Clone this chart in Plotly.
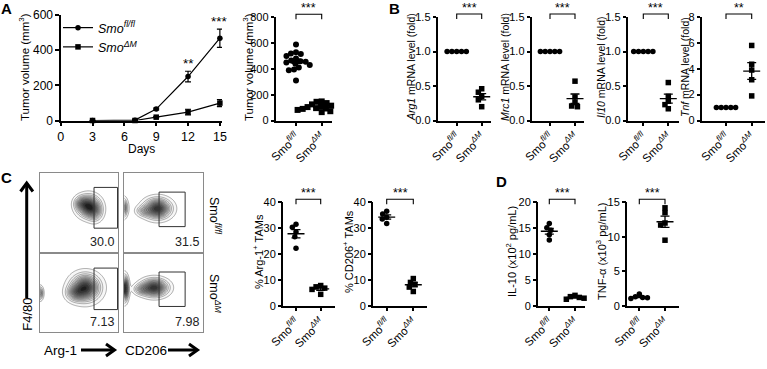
import numpy as np
import plotly.graph_objects as go

W, H = 767, 369
FONT = "Liberation Sans, Arial, sans-serif"
NARROW = "Liberation Sans Narrow, Arial Narrow, Liberation Sans, sans-serif"

# ---------------- data ----------------
days = [3, 7, 9, 12, 15]
vol_flfl = [0, 2, 65, 250, 468]
vol_flfl_sem = [0, 1, 5, 30, 52]
vol_dm = [0, 0, 19, 48, 99]
vol_dm_sem = [0, 0, 3, 16, 20]
line_sig = ["", "", "", "**", "***"]

group_labels = ["Smo<sup><i>fl/fl</i></sup>", "Smo<sup><i>ΔM</i></sup>"]
legend_names = ["<i>Smo</i><sup><i>fl/fl</i></sup>", "<i>Smo</i><sup><i>ΔM</i></sup>"]

tumor_flfl = [590, 530, 520, 515, 500, 480, 465, 460, 455, 450, 440, 430, 410, 395, 390, 310]
tumor_dm = [148, 145, 135, 125, 115, 108, 104, 100, 96, 93, 90, 86, 82, 78, 72, 65]

arg1_flfl = [1.0, 1.0, 1.0, 1.0, 1.0]
arg1_dm = [0.46, 0.41, 0.35, 0.30, 0.20]
mrc1_flfl = [1.0, 1.0, 1.0, 1.0, 1.0]
mrc1_dm = [0.57, 0.34, 0.26, 0.21, 0.20]
il10m_flfl = [1.0, 1.0, 1.0, 1.0, 1.0]
il10m_dm = [0.55, 0.35, 0.28, 0.23, 0.17]
tnfm_flfl = [1.0, 1.0, 1.0, 1.0, 1.0]
tnfm_dm = [5.8, 4.35, 3.9, 3.15, 1.9]

arg1tam_flfl = [31.5, 30.3, 28.5, 26.7, 22.2]
arg1tam_dm = [7.8, 7.3, 6.8, 6.3, 4.4]
cd206tam_flfl = [36.5, 35.5, 34.2, 33.5, 31.8]
cd206tam_dm = [10.5, 9.0, 8.3, 7.2, 5.5]

il10_flfl = [15.9, 15.1, 14.6, 13.7, 12.7]
il10_dm = [2.0, 1.75, 1.6, 1.45, 1.25]
tnf_flfl = [1.7, 1.3, 1.2, 1.15, 1.05]
tnf_dm = [14.2, 13.5, 12.0, 11.7, 9.5]

flow_gate_pct = ["30.0", "31.5", "7.13", "7.98"]
# flow density blobs (cx, cy, sx, sy, amplitude) in box fractions
flow_blobs = [
    [(0.62, 0.58, 0.085, 0.08, 1.0), (0.70, 0.50, 0.06, 0.07, 0.35), (0.52, 0.62, 0.05, 0.05, 0.3)],
    [(0.42, 0.55, 0.10, 0.075, 1.0), (0.25, 0.52, 0.06, 0.04, 0.3), (-0.02, 0.56, 0.035, 0.07, 0.7)],
    [(0.58, 0.57, 0.11, 0.10, 1.0), (0.45, 0.50, 0.07, 0.06, 0.4), (0.0, 0.50, 0.025, 0.05, 0.5)],
    [(0.38, 0.57, 0.10, 0.065, 1.0), (0.22, 0.55, 0.06, 0.04, 0.35), (0.0, 0.56, 0.03, 0.09, 1.2)],
]
flow_gates = [(0.69, 0.99, 0.30, 0.82), (0.44, 0.77, 0.32, 0.76),
              (0.69, 0.99, 0.29, 0.82), (0.44, 0.77, 0.33, 0.77)]

# ---------------- helpers ----------------
def PX(x):
    return x / W


def PY(y):
    return 1 - y / H


traces = []
shapes = []
annotations = []
layout = dict(width=W, height=H, margin=dict(l=0, r=0, t=0, b=0, pad=0, autoexpand=False),
              paper_bgcolor="white", plot_bgcolor="white",
              font=dict(family=FONT, color="black", size=11),
              showlegend=True,
              legend=dict(x=PX(58), y=PY(13), xanchor="left", yanchor="top",
                          font=dict(size=12.5, family=NARROW), bgcolor="rgba(0,0,0,0)",
                          itemwidth=30, tracegroupgap=0))


def axname(n):
    return ("", "") if n == 1 else (str(n), str(n))


def base_axis(**kw):
    d = dict(showline=True, linecolor="black", linewidth=1.5, ticks="outside",
             ticklen=3.5, tickwidth=1.5, tickcolor="black", showgrid=False,
             zeroline=False, tickfont=dict(size=11, family=NARROW), fixedrange=True,
             automargin=False)
    d.update(kw)
    return d


def ppath(pts, w=3):
    d = "M " + " L ".join(f"{PX(x)},{PY(y)}" for x, y in pts)
    shapes.append(dict(type="path", xref="paper", yref="paper", path=d,
                       line=dict(color="black", width=w)))


def ptext(x, y, text, size=11, angle=0, bold=False, family=FONT, **kw):
    if bold:
        text = "<b>" + text + "</b>"
    a = dict(x=PX(x), y=PY(y), xref="paper", yref="paper", text=text,
             showarrow=False, font=dict(size=size, family=family, color="black"),
             textangle=angle, xanchor="center", yanchor="middle")
    a.update(kw)
    annotations.append(a)


def beeswarm(vals, ypu, d):
    order = sorted(range(len(vals)), key=lambda i: -vals[i])
    placed = []
    offs = [0.0] * len(vals)
    for i in order:
        y = vals[i] * ypu
        cands = [0.0]
        for (xp, yp) in placed:
            dy = abs(yp - y)
            if dy < d:
                dx = (d * d - dy * dy) ** 0.5
                cands += [xp - dx, xp + dx]
        cands.sort(key=lambda c: (abs(c), c))
        for c in cands:
            if all((c - xp) ** 2 + (y - yp) ** 2 >= d * d - 1e-6 for xp, yp in placed):
                offs[i] = c
                break
        placed.append((offs[i], y))
    return offs


def dot_panel(n, geom, v0, v1, ymax, dtick, sig, tickfmt=None, dia=4.8, msize=5.5):
    axl, axr, c0, c1, yt, yb = geom
    ppu = c1 - c0
    xr = [-(c0 - axl) / ppu, 1 + (axr - c1) / ppu]
    sx, sy = axname(n)
    layout["xaxis" + sx] = base_axis(domain=[PX(axl), PX(axr)], range=xr, anchor="y" + sy,
                                     tickvals=[0, 1], ticktext=group_labels, tickangle=-45,
                                     tickfont=dict(size=11.5, family=FONT))
    ya = base_axis(domain=[PY(yb), PY(yt)], range=[0, ymax], anchor="x" + sx, dtick=dtick, tick0=0)
    if tickfmt:
        ya["tickformat"] = tickfmt
    layout["yaxis" + sy] = ya
    ypu = (yb - yt) / ymax
    for k, (vals, sym) in enumerate([(v0, "circle"), (v1, "square")]):
        offs = beeswarm(vals, ypu, dia)
        xs = [k + o / ppu for o in offs]
        traces.append(go.Scatter(x=xs, y=vals, mode="markers", xaxis="x" + sx, yaxis="y" + sy,
                                 marker=dict(symbol=sym, size=msize, color="black", line=dict(width=0)),
                                 showlegend=False, hoverinfo="skip", cliponaxis=False))
        m = float(np.mean(vals))
        sem = float(np.std(vals, ddof=1) / np.sqrt(len(vals)))
        hw = 8.5 / ppu
        traces.append(go.Scatter(x=[k - hw, k + hw], y=[m, m], mode="lines", xaxis="x" + sx,
                                 yaxis="y" + sy, line=dict(color="black", width=1.3),
                                 showlegend=False, hoverinfo="skip", cliponaxis=False))
        if sem > 0:
            traces.append(go.Scatter(x=[k], y=[m], mode="markers", xaxis="x" + sx, yaxis="y" + sy,
                                     marker=dict(size=1, color="rgba(0,0,0,0)"),
                                     error_y=dict(type="data", array=[sem], width=4.5,
                                                  thickness=1.3, color="black"),
                                     showlegend=False, hoverinfo="skip", cliponaxis=False))
    by = yt - 3
    ppath([(c0, by + 5), (c0, by), (c1, by), (c1, by + 5)], w=1.1)
    ptext((c0 + c1) / 2, by + 3, sig, size=12.5, yanchor="bottom", family=NARROW)


# ---------------- Panel A: growth curve ----------------
a_l, a_r, a_t, a_b = 60.7, 222, 15, 120.5
layout["xaxis"] = base_axis(domain=[PX(a_l), PX(a_r)], range=[0, 15.2], anchor="y",
                            tickvals=[0, 3, 6, 9, 12, 15], tickfont=dict(size=12.5, family=NARROW))
layout["yaxis"] = base_axis(domain=[PY(a_b), PY(a_t)], range=[0, 600], anchor="x",
                            dtick=200, tickfont=dict(size=12, family=NARROW))
traces.append(go.Scatter(x=days, y=vol_flfl, mode="lines+markers", name=legend_names[0],
                         line=dict(color="black", width=1.2),
                         marker=dict(symbol="circle", size=5.5, color="black"),
                         error_y=dict(type="data", array=vol_flfl_sem, width=3, thickness=1.2,
                                      color="black"),
                         xaxis="x", yaxis="y", cliponaxis=False, hoverinfo="skip"))
traces.append(go.Scatter(x=days, y=vol_dm, mode="lines+markers", name=legend_names[1],
                         line=dict(color="black", width=1.2),
                         marker=dict(symbol="square", size=5.5, color="black"),
                         error_y=dict(type="data", array=vol_dm_sem, width=3, thickness=1.2,
                                      color="black"),
                         xaxis="x", yaxis="y", cliponaxis=False, hoverinfo="skip"))
for d, v, s, t in zip(days, vol_flfl, vol_flfl_sem, line_sig):
    if t:
        annotations.append(dict(x=d, y=v + s, xref="x", yref="y", text=t, showarrow=False,
                                yanchor="bottom", yshift=-2, font=dict(size=13.5, family=NARROW)))
ptext((a_l + a_r) / 2, 149, "Days", size=12, family=NARROW)
ptext(24, 67, "Tumor volume (mm<sup>3</sup>)", size=11.5, angle=-90)

# ---------------- Panel A: scatter ----------------
dot_panel(2, (276, 332, 296, 321.7, 17.3, 120.5), tumor_flfl, tumor_dm, 800, 200, "***",
          dia=5.2, msize=6)
ptext(248, 67, "Tumor volume (mm<sup>3</sup>)", size=11.5, angle=-90)

# ---------------- Panel B ----------------
b_specs = [
    (3, (438, 491, 456.7, 481.7, 17, 120.5), arg1_flfl, arg1_dm, 1.5, 0.5, "***", "<i>Arg1</i>", 411),
    (4, (532, 584, 550, 575, 17, 120.5), mrc1_flfl, mrc1_dm, 1.5, 0.5, "***", "<i>Mrc1</i>", 505),
    (5, (628, 679, 643.3, 668.3, 17, 120.5), il10m_flfl, il10m_dm, 1.5, 0.5, "***", "<i>Il10</i>", 601),
    (6, (702, 765, 726, 751.7, 17, 120.5), tnfm_flfl, tnfm_dm, 8, 2, "**", "<i>Tnf</i>", 685),
]
for n, g, v0, v1, ym, dt, sg, gene, tx in b_specs:
    dot_panel(n, g, v0, v1, ym, dt, sg, tickfmt=".1f" if ym < 2 else None)
    ptext(tx, 67, gene + " mRNA level (fold)", size=10.5, angle=-90)

# ---------------- Panel C scatter ----------------
dot_panel(7, (283.3, 335, 296, 320.7, 202.3, 305.7), arg1tam_flfl, arg1tam_dm, 40, 10, "***")
ptext(258, 252, "% Arg-1<sup>+</sup> TAMs", size=11, angle=-90)
dot_panel(8, (373.3, 426.7, 386.7, 413.3, 202.3, 305.7), cd206tam_flfl, cd206tam_dm, 40, 10, "***")
ptext(348, 252, "% CD206<sup>+</sup> TAMs", size=11, angle=-90)

# ---------------- Panel D ----------------
dot_panel(9, (538.3, 585, 549.3, 575, 202.3, 305.7), il10_flfl, il10_dm, 20, 5, "***")
ptext(511, 252, "IL-10 (x10<sup>2</sup> pg/mL)", size=11, angle=-90)
dot_panel(10, (627.3, 679.3, 639.3, 665, 202.3, 305.7), tnf_flfl, tnf_dm, 15, 5, "***")
ptext(601, 252, "TNF-α (x10<sup>3</sup> pg/mL)", size=11, angle=-90)

# ---------------- Panel C flow plots ----------------
flow_boxes = [(40, 118.3, 173.3, 251.7), (124.3, 203.3, 173.3, 251.7),
              (40, 118.3, 254, 332.3), (124.3, 203.3, 254, 332.3)]
grid = np.linspace(0, 1, 121)
GX, GY = np.meshgrid(grid, grid)
for i, (box, blobs, gate, pct) in enumerate(zip(flow_boxes, flow_blobs, flow_gates, flow_gate_pct)):
    n = 11 + i
    sx = str(n)
    l, r, t, b = box
    layout["xaxis" + sx] = dict(domain=[PX(l), PX(r)], range=[0, 1], anchor="y" + sx,
                                showline=True, mirror=True, linecolor="#8a8a8a", linewidth=1,
                                ticks="", showticklabels=False, showgrid=False, zeroline=False,
                                fixedrange=True, automargin=False)
    layout["yaxis" + sx] = dict(domain=[PY(b), PY(t)], range=[0, 1], anchor="x" + sx,
                                showline=True, mirror=True, linecolor="#8a8a8a", linewidth=1,
                                ticks="", showticklabels=False, showgrid=False, zeroline=False,
                                fixedrange=True, automargin=False)
    Z = np.zeros_like(GX)
    for cx, cy, sgx, sgy, amp in blobs:
        Z += amp * np.exp(-0.5 * (((GX - cx) / sgx) ** 2 + ((GY - cy) / sgy) ** 2))
    traces.append(go.Contour(x=grid, y=grid, z=Z, xaxis="x" + sx, yaxis="y" + sx,
                             zmin=0, zmax=1.1, showscale=False, hoverinfo="skip",
                             contours=dict(start=0.05, end=1.05, size=0.08, coloring="fill"),
                             colorscale=[[0, "#ffffff"], [0.25, "#e2e2e2"], [0.6, "#8a8a8a"],
                                         [1, "#1e1e1e"]],
                             line=dict(color="#3a3a3a", width=0.4)))
    gx0, gx1, gy0, gy1 = gate
    shapes.append(dict(type="rect", xref="x" + sx, yref="y" + sx, x0=gx0, x1=gx1, y0=gy0, y1=gy1,
                       line=dict(color="#333333", width=1)))
    annotations.append(dict(x=0.97, y=0.13, xref="x" + sx, yref="y" + sx, text=pct,
                            showarrow=False, xanchor="right", yanchor="middle",
                            font=dict(size=12.5, family=NARROW, color="#222222")))

# axis arrows & labels for flow plots
ppath([(26.7, 298), (26.7, 183)], w=3)
ppath([(20.5, 191.5), (26.7, 183), (32.9, 191.5)], w=3)
ppath([(81, 350), (114, 350)], w=3)
ppath([(106, 344), (114.5, 350), (106, 356)], w=3)
ppath([(168, 350), (197, 350)], w=3)
ppath([(189, 344), (197.5, 350), (189, 356)], w=3)
ptext(26.7, 314, "F4/80", size=13, angle=-90)
ptext(60.5, 350, "Arg-1", size=13.5, family=NARROW)
ptext(145.5, 350, "CD206", size=13.5, family=NARROW)
ptext(215, 216, "Smo<sup><i>fl/fl</i></sup>", size=12.5, angle=90)
ptext(215, 294, "Smo<sup><i>ΔM</i></sup>", size=12.5, angle=90)

# panel letters
ptext(6.7, 8.5, "A", size=15, bold=True)
ptext(394, 8.5, "B", size=15, bold=True)
ptext(7, 178, "C", size=15, bold=True)
ptext(501.7, 181, "D", size=15, bold=True)

layout["shapes"] = shapes
layout["annotations"] = annotations
fig = go.Figure(data=traces, layout=layout)
fig.write_html("out.html", config={"displayModeBar": False},
               post_script="document.body.style.margin='0';")
